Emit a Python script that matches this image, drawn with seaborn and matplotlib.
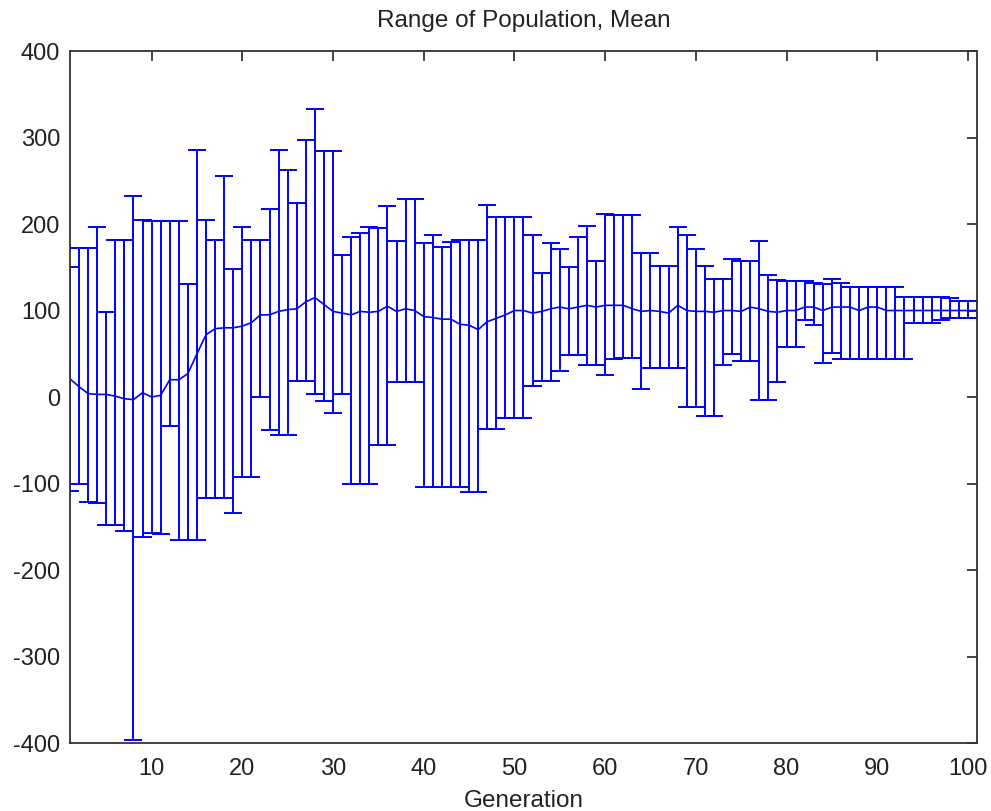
import numpy as np
import pandas as pd
import matplotlib
matplotlib.use("Agg")
import matplotlib.pyplot as plt
import seaborn as sns

generation = list(range(1, 102))

mean_vals = [21, 12, 4, 3, 3, 1, -2, -3, 5, 0,
             2, 20, 20, 27, 50, 72, 79, 80, 80, 82,
             86, 95, 95, 99, 101, 102, 110, 115, 107, 99,
             97, 95, 99, 98, 99, 105, 99, 102, 100, 93,
             92, 90, 90, 84, 83, 78, 87, 91, 95, 100,
             100, 97, 99, 102, 104, 102, 104, 106, 104, 106,
             106, 106, 102, 99, 100, 99, 97, 106, 100, 99,
             99, 98, 100, 100, 99, 104, 102, 99, 98, 100,
             100, 104, 104, 100, 104, 104, 104, 100, 104, 104,
             100, 100, 100, 100, 100, 100, 100, 100, 100, 100,
             100]

upper_vals = [150, 172, 172, 196, 98, 182, 182, 232, 205, 203,
              203, 203, 203, 131, 286, 205, 182, 256, 148, 196,
              182, 182, 217, 285, 263, 224, 297, 333, 284, 284,
              164, 185, 190, 196, 195, 221, 180, 229, 229, 178,
              187, 173, 179, 182, 182, 182, 222, 208, 208, 208,
              208, 187, 143, 178, 171, 150, 185, 198, 157, 212,
              211, 211, 211, 166, 166, 152, 152, 196, 187, 171,
              152, 137, 137, 159, 157, 157, 180, 141, 135, 134,
              134, 134, 132, 131, 137, 132, 127, 127, 127, 127,
              127, 127, 116, 116, 116, 116, 116, 114, 111, 111,
              111]

lower_vals = [-109, -101, -121, -123, -148, -148, -155, -396, -162, -157,
              -158, -33, -165, -165, -165, -117, -117, -117, -134, -93,
              -93, 0, -38, -44, -44, 18, 18, 3, -5, -19,
              3, -100, -100, -100, -56, -56, 17, 17, 17, -104,
              -104, -104, -104, -104, -110, -110, -37, -37, -24, -24,
              -24, 13, 19, 19, 30, 49, 49, 37, 37, 25,
              44, 45, 45, 9, 34, 33, 33, 34, -12, -12,
              -22, -22, 37, 50, 42, 42, -3, -3, 17, 58,
              58, 89, 83, 39, 51, 44, 44, 44, 44, 44,
              44, 44, 44, 86, 86, 86, 89, 91, 91, 91,
              91]

x_ticks = [10, 20, 30, 40, 50, 60, 70, 80, 90, 100]
y_ticks = [-400, -300, -200, -100, 0, 100, 200, 300, 400]

df = pd.DataFrame({"Generation": generation, "Mean": mean_vals,
                   "Upper": upper_vals, "Lower": lower_vals})

sns.set_style("white")
plt.rcParams['font.family'] = ['Liberation Sans', 'DejaVu Sans']
plt.rcParams['axes.unicode_minus'] = False

fig = plt.figure(figsize=(9.91, 8.11), dpi=100)
ax = fig.add_axes([0.0706, 0.0838, 0.9153, 0.8533])

blue = (0, 0, 1)
yerr = np.vstack([df["Mean"] - df["Lower"], df["Upper"] - df["Mean"]])
ax.errorbar(df["Generation"], df["Mean"], yerr=yerr, fmt='none',
            ecolor=blue, elinewidth=1.4, capsize=6.5, capthick=1.4,
            clip_on=True)
sns.lineplot(data=df, x="Generation", y="Mean", ax=ax, color=blue,
             linewidth=1.2, legend=False)

ax.set_xlim(1, 101)
ax.set_ylim(-400, 400)
ax.set_xticks(x_ticks)
ax.set_yticks(y_ticks)
ax.tick_params(direction='in', length=7, width=1.2, top=True, right=True,
               labelsize=17, colors='#222222', pad=7)
ax.tick_params(axis='x', pad=11)
for s in ax.spines.values():
    s.set_visible(True)
    s.set_color('#333333')
    s.set_linewidth(1.3)
ax.set_title("Range of Population, Mean", fontsize=17.5, color='#222222', pad=17)
ax.set_xlabel("Generation", fontsize=17.5, color='#222222', labelpad=7)
ax.set_ylabel("")

fig.savefig("out.png", dpi=100)
